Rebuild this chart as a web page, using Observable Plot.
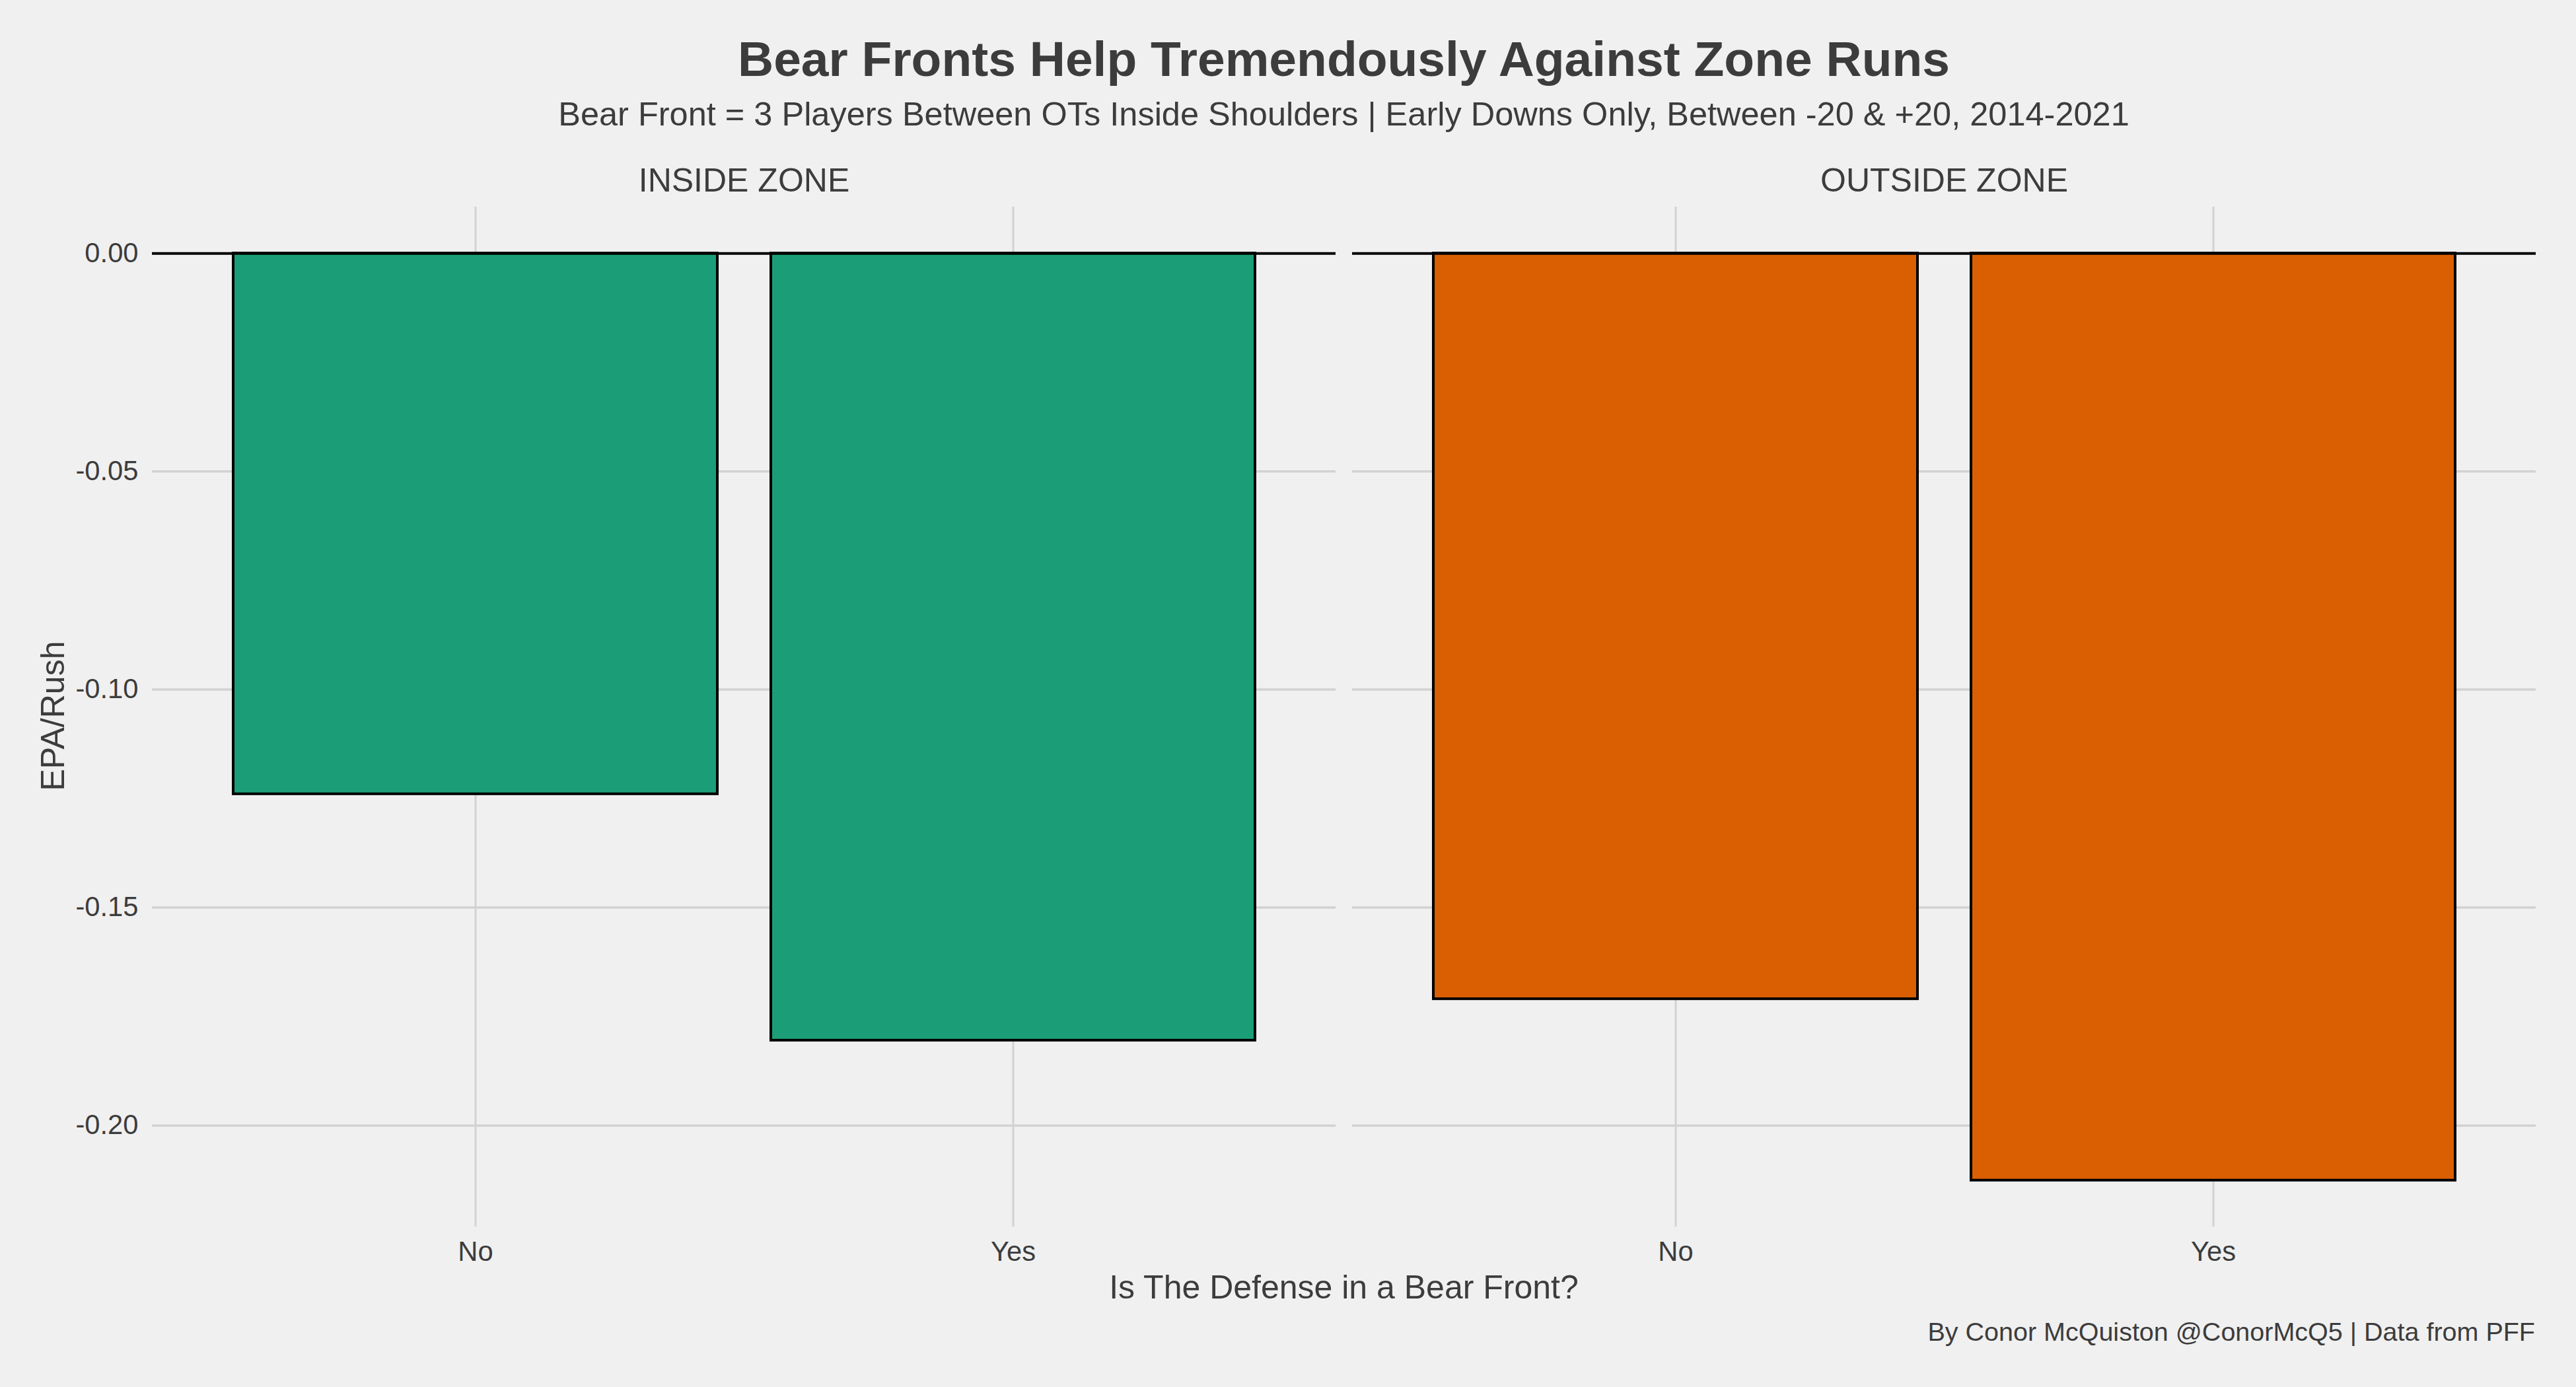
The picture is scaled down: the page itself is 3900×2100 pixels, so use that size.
<!DOCTYPE html>
<html><head><meta charset="utf-8">
<script src="https://cdn.jsdelivr.net/npm/d3@7"></script>
<script src="https://cdn.jsdelivr.net/npm/@observablehq/plot@0.6"></script>
<style>
html,body{margin:0;padding:0;background:#F0F0F0;}
body{width:3900px;height:2100px;position:relative;overflow:hidden;font-family:"Liberation Sans",Arial,sans-serif;color:#3C3C3C;}
.t{position:absolute;white-space:nowrap;line-height:1;}
#chart svg text{fill:#3C3C3C;}
#chart g[aria-label^="fx-axis"]{font-size:50px;}
#chart g[aria-label^="fx-axis"] text{font-size:50px;}
</style></head><body>
<div class="t" style="left:230px;width:3609px;top:52px;text-align:center;font-size:75px;font-weight:bold;">Bear Fronts Help Tremendously Against Zone Runs</div>
<div class="t" style="left:230px;width:3609px;top:148px;text-align:center;font-size:50.5px;">Bear Front = 3 Players Between OTs Inside Shoulders | Early Downs Only, Between -20 &amp; +20, 2014-2021</div>
<div id="chart" style="position:absolute;left:0;top:198px;"></div>
<div class="t" style="left:80px;top:1084px;font-size:50px;transform:translate(-50%,-50%) rotate(-90deg);">EPA/Rush</div>
<div class="t" style="left:230px;width:3609px;top:1924px;text-align:center;font-size:50px;">Is The Defense in a Bear Front?</div>
<div class="t" style="left:0px;width:3838px;top:1997px;text-align:right;font-size:39.5px;">By Conor McQuiston @ConorMcQ5 | Data from PFF</div>
<script>
const zones = ["INSIDE ZONE", "OUTSIDE ZONE"];
const bearFront = ["No", "Yes"];
const insideZoneEPA = [-0.124, -0.1805];
const outsideZoneEPA = [-0.171, -0.2126];
const zoneColors = ["#1B9E77", "#D95F02"];
const yTicks = [0, -0.05, -0.10, -0.15, -0.20];

const data = [];
zones.forEach((z, i) => {
  const vals = i === 0 ? insideZoneEPA : outsideZoneEPA;
  bearFront.forEach((b, j) => data.push({zone: z, bear: b, epa: vals[j]}));
});
const ymin = Math.min(0, d3.min(data, d => d.epa));
const ymax = Math.max(0, d3.max(data, d => d.epa));
const pad = (ymax - ymin) * 0.05;
const top0 = 198;

const H = 1792;
const plot = Plot.plot({
  width: 3900,
  height: H,
  marginTop: 313 - top0,
  marginBottom: H - (1857 - top0),
  marginLeft: 230,
  marginRight: 61,
  style: {background: "transparent", fontFamily: "Liberation Sans, Arial, sans-serif", fontSize: "41.7px", color: "#3C3C3C"},
  fx: {domain: zones, paddingInner: 0.01376, paddingOuter: 0, label: null, axis: "top", tickSize: 0, tickPadding: 24},
  x: {domain: bearFront, paddingInner: 0.1, paddingOuter: 0.15, label: null, tickSize: 0, tickPadding: 22},
  y: {domain: [ymin - pad, ymax + pad], label: null, ticks: yTicks, tickFormat: d => (Math.abs(d) < 1e-12 ? 0 : d).toFixed(2), tickSize: 0, tickPadding: 21},
  color: {domain: zones, range: zoneColors},
  marks: [
    Plot.ruleX(data, {x: "bear", fx: "zone", stroke: "#D2D2D2", strokeWidth: 3}),
    Plot.ruleY(yTicks, {y: d => d, stroke: "#D2D2D2", strokeWidth: 3.5}),
    Plot.barY(data, {x: "bear", fx: "zone", y: "epa", fill: "zone", stroke: "black", strokeWidth: 4}),
    Plot.ruleY([0], {stroke: "black", strokeWidth: 4})
  ]
});
document.getElementById("chart").appendChild(plot);
</script>
</body></html>
